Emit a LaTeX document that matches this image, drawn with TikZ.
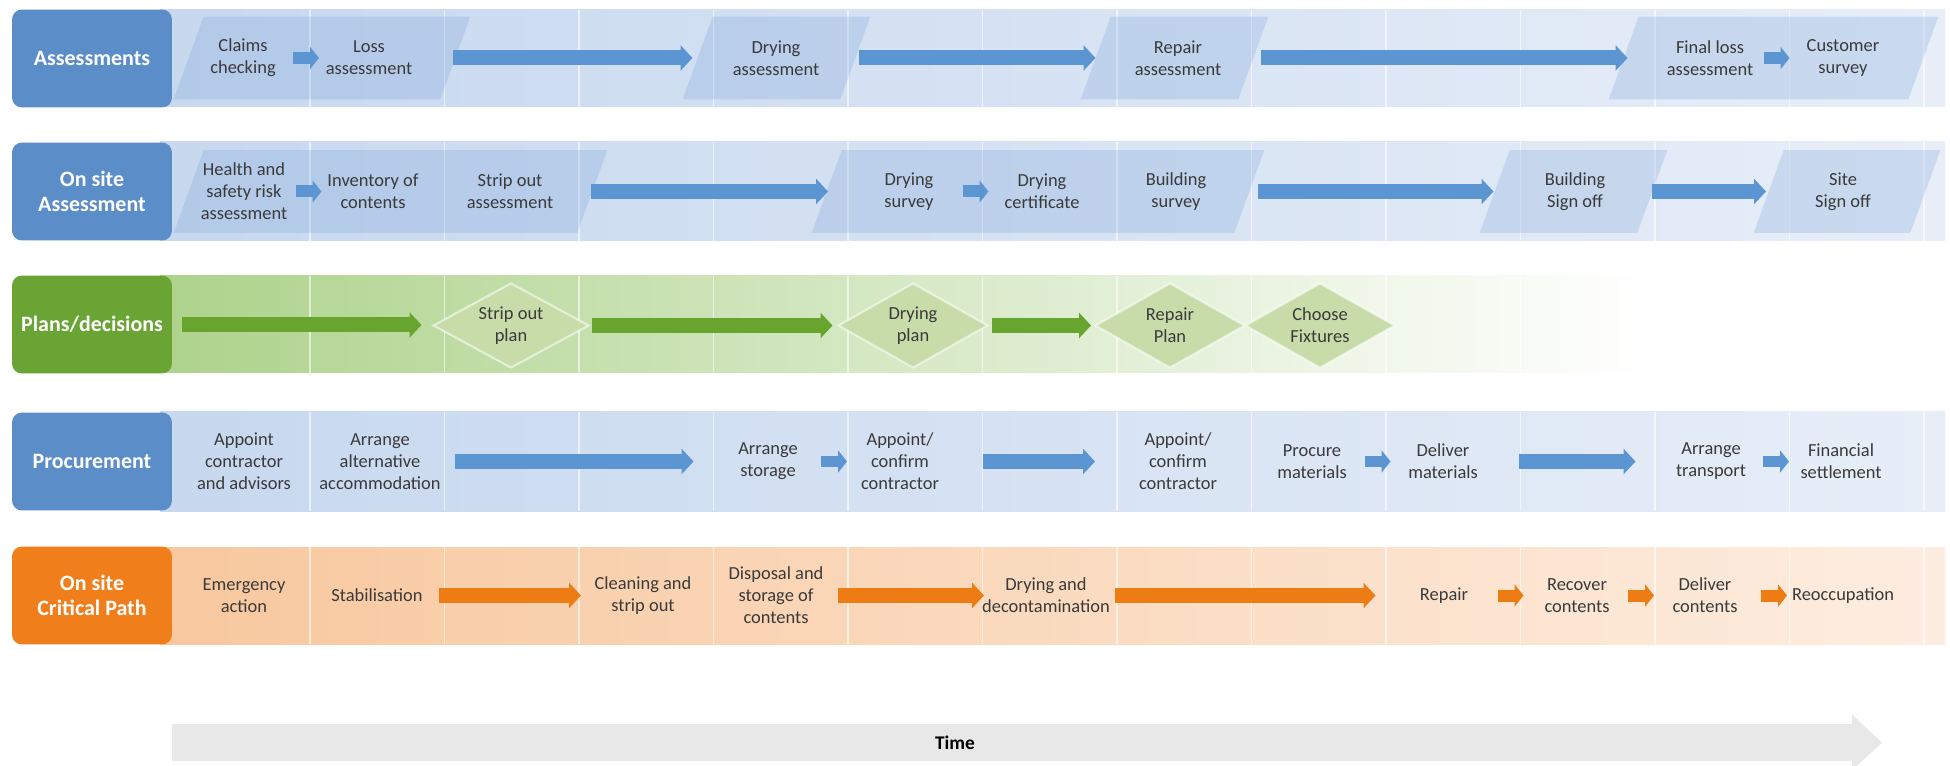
\documentclass[tikz,border=0pt]{standalone}
\usepackage{fontspec}
\setmainfont{Carlito}
\usepackage{tikz}
\usetikzlibrary{arrows.meta, calc, shapes.geometric}

\definecolor{bluehead}{HTML}{5B8DC9}
\definecolor{bluelane}{HTML}{C7D8EF}
\definecolor{bluelaneend}{HTML}{E7EEF8}
\definecolor{bluepara}{HTML}{78A0D7}
\definecolor{blueflow}{HTML}{5B96D3}
\definecolor{greenhead}{HTML}{6AA434}
\definecolor{greenlane}{HTML}{AED38C}
\definecolor{greenplan}{HTML}{C8DCAA}
\definecolor{greenflow}{HTML}{67A52E}
\definecolor{orangehead}{HTML}{F07F1B}
\definecolor{orangelane}{HTML}{F8C89F}
\definecolor{orangelaneend}{HTML}{FDEDE0}
\definecolor{orangeflow}{HTML}{EE7C14}
\definecolor{timebar}{HTML}{E8E8E8}
\definecolor{itemtext}{HTML}{3A3A3A}

\tikzset{
  lanehead/.style={rounded corners=0.2cm, minimum width=3.2cm, minimum height=1.96cm,
    inner sep=0pt, align=center, text=white, font=\bfseries\fontsize{12.5}{14.5}\selectfont},
  stepitem/.style={align=center, inner sep=0pt, text=itemtext,
    font=\fontsize{10.5}{12.5}\selectfont},
  parabody/.style={inner sep=0pt, minimum height=1.64cm},
  planbox/.style={diamond, aspect=1.8, minimum width=3.0cm, minimum height=1.7cm,
    inner sep=0pt, fill=greenplan, draw=white, draw opacity=0.55, line width=1.2pt,
    align=center, text=itemtext, font=\fontsize{10.5}{12.5}\selectfont},
  longflow/.style={line width=0.3cm, -{Triangle[width=0.5cm, length=0.24cm]},
    to path={($(\tikztostart)!0.5!(\tikztotarget)$) ++({-#1/2},0) -- ++(#1,0)}},
  shortflow/.style={line width=0.24cm, -{Triangle[width=0.44cm, length=0.18cm]},
    to path={($(\tikztostart)!0.5!(\tikztotarget)$) ++(-13,0) -- ++(26,0)}}
}

\begin{document}
\begin{tikzpicture}[x=0.02cm, y=-0.02cm]
    \useasboundingbox (0,0) rectangle (1950,766);
    \fill[white] (0,0) rectangle (1950,766);

    % lanes
    \shade[left color=bluelane, right color=bluelaneend] (160,10) rectangle (1945,107);
    \shade[left color=bluelane, right color=bluelaneend] (160,142) rectangle (1945,241);
    \shade[left color=greenlane, middle color=greenlane!78!white, right color=white]
      (160,276) rectangle (1650,373);
    \shade[left color=bluelane, right color=bluelaneend] (160,412) rectangle (1945,511);
    \shade[left color=orangelane, right color=orangelaneend] (160,547) rectangle (1945,644);

    \foreach \top/\bot in {10/107, 142/241, 276/373, 412/511, 547/644} {
      \foreach \k in {0, 1, ..., 12} {
        \draw[white, opacity=0.6, line width=0.6pt] ({310+134.5*\k},\top) -- ({310+134.5*\k},\bot);
      }
    }

    \node[lanehead, fill=bluehead] (HEAD1) at (92,58.5) {Assessments};
    \node[lanehead, fill=bluehead] (HEAD2) at (92,191.5) {On site\\Assessment};
    \node[lanehead, fill=greenhead] (HEAD3) at (92,324.5) {Plans/decisions};
    \node[lanehead, fill=bluehead] (HEAD4) at (92,461.5) {Procurement};
    \node[lanehead, fill=orangehead] (HEAD5) at (92,595.5) {On site\\Critical Path};

    % slanted backs of the assessment rows
    \node[parabody, minimum width=5.32cm] (PA1) at (322,58) {};
    \node[parabody, minimum width=3.14cm] (PA2) at (776.5,58) {};
    \node[parabody, minimum width=3.14cm] (PA3) at (1174.5,58) {};
    \node[parabody, minimum width=5.98cm] (PA4) at (1773.5,58) {};
    \node[parabody, minimum width=8.06cm] (PB1) at (390.5,191.5) {};
    \node[parabody, minimum width=8.44cm] (PB2) at (1038,191.5) {};
    \node[parabody, minimum width=3.14cm] (PB3) at (1573.5,191.5) {};
    \node[parabody, minimum width=3.12cm] (PB4) at (1847,191.5) {};
    \foreach \p in {PA1, PA2, PA3, PA4, PB1, PB2, PB3, PB4} {
      \fill[bluepara, fill opacity=0.26]
        ([xshift=-0.3cm]\p.south west) -- ([xshift=-0.3cm]\p.south east)
        -- ([xshift=0.3cm]\p.north east) -- ([xshift=0.3cm]\p.north west) -- cycle;
    }

    % assessments
    \node[stepitem] (CLAIMS) at (243,58) {Claims\\checking};
    \node[stepitem] (LOSS) at (369,58) {Loss\\assessment};
    \node[stepitem] (DRYASS) at (776,58) {Drying\\assessment};
    \node[stepitem] (REPASS) at (1178,58) {Repair\\assessment};
    \node[stepitem] (FINLOSS) at (1710,58) {Final loss\\assessment};
    \node[stepitem] (CUSTSURV) at (1843,58) {Customer\\survey};
    \draw[shortflow, blueflow] (CLAIMS) to (LOSS);
    \draw[longflow=240, blueflow] (LOSS) to (DRYASS);
    \draw[longflow=237, blueflow] (DRYASS) to (REPASS);
    \draw[longflow=367, blueflow] (REPASS) to (FINLOSS);
    \draw[shortflow, blueflow] (FINLOSS) to (CUSTSURV);

    % on site assessment
    \node[stepitem] (HEALTH) at (244,191.5) {Health and\\safety risk\\assessment};
    \node[stepitem] (INVENT) at (373,191.5) {Inventory of\\contents};
    \node[stepitem] (STRIPASS) at (510,191.5) {Strip out\\assessment};
    \node[stepitem] (DRYSURV) at (909,191.5) {Drying\\survey};
    \node[stepitem] (DRYCERT) at (1042,191.5) {Drying\\certificate};
    \node[stepitem] (BUILDSURV) at (1176,191.5) {Building\\survey};
    \node[stepitem] (BUILDSIGN) at (1575,191.5) {Building\\Sign off};
    \node[stepitem] (SITESIGN) at (1843,191.5) {Site\\Sign off};
    \draw[shortflow, blueflow] (HEALTH) to (INVENT);
    \draw[longflow=237, blueflow] (STRIPASS) to (DRYSURV);
    \draw[shortflow, blueflow] (DRYSURV) to (DRYCERT);
    \draw[longflow=236, blueflow] (BUILDSURV) to (BUILDSIGN);
    \draw[longflow=114, blueflow] (BUILDSIGN) to (SITESIGN);

    % plans/decisions
    \node[planbox, minimum width=3.12cm] (STRIPPLAN) at (511,325.5) {Strip out\\plan};
    \node[planbox] (DRYPLAN) at (913,325.5) {Drying\\plan};
    \node[planbox] (REPPLAN) at (1170,325.5) {Repair\\Plan};
    \node[planbox] (FIXTURES) at (1320,325.5) {Choose\\Fixtures};
    \draw[longflow=240, greenflow] (HEAD3) to (STRIPPLAN);
    \draw[longflow=241, greenflow] (STRIPPLAN) to (DRYPLAN);
    \draw[longflow=99, greenflow] (DRYPLAN) to (REPPLAN);

    % procurement
    \node[stepitem] (APPCONT) at (244,461.5) {Appoint\\contractor\\and advisors};
    \node[stepitem] (ALTACC) at (380,461.5) {Arrange\\alternative\\accommodation};
    \node[stepitem] (ARRSTOR) at (768,461.5) {Arrange\\storage};
    \node[stepitem] (APPCONF) at (900,461.5) {Appoint/\\confirm\\contractor};
    \node[stepitem] (APPCONFB) at (1178,461.5) {Appoint/\\confirm\\contractor};
    \node[stepitem] (PROCURE) at (1312,461.5) {Procure\\materials};
    \node[stepitem] (DELMAT) at (1443,461.5) {Deliver\\materials};
    \node[stepitem] (ARRTRANS) at (1711,461.5) {Arrange\\transport};
    \node[stepitem] (FINSET) at (1841,461.5) {Financial\\settlement};
    \draw[longflow=239, blueflow] (ALTACC) to (ARRSTOR);
    \draw[shortflow, blueflow] (ARRSTOR) to (APPCONF);
    \draw[longflow=112, blueflow] (APPCONF) to (APPCONFB);
    \draw[shortflow, blueflow] (PROCURE) to (DELMAT);
    \draw[longflow=117, blueflow] (DELMAT) to (ARRTRANS);
    \draw[shortflow, blueflow] (ARRTRANS) to (FINSET);

    % on site critical path
    \node[stepitem] (EMERG) at (244,595.5) {Emergency\\action};
    \node[stepitem] (STAB) at (377,595.5) {Stabilisation};
    \node[stepitem] (CLEAN) at (643,595.5) {Cleaning and\\strip out};
    \node[stepitem] (DISPOSAL) at (776,595.5) {Disposal and\\storage of\\contents};
    \node[stepitem] (DRYDECON) at (1046,595.5) {Drying and\\decontamination};
    \node[stepitem] (REPAIR) at (1444,595.5) {Repair};
    \node[stepitem] (RECOVER) at (1577,595.5) {Recover\\contents};
    \node[stepitem] (DELCONT) at (1705,595.5) {Deliver\\contents};
    \node[stepitem] (REOCC) at (1843,595.5) {Reoccupation};
    \draw[longflow=142, orangeflow] (STAB) to (CLEAN);
    \draw[longflow=146, orangeflow] (DISPOSAL) to (DRYDECON);
    \draw[longflow=261, orangeflow] (DRYDECON) to (REPAIR);
    \draw[shortflow, orangeflow] (REPAIR) to (RECOVER);
    \draw[shortflow, orangeflow] (RECOVER) to (DELCONT);
    \draw[shortflow, orangeflow] (DELCONT) to (REOCC);

    % time
    \coordinate (TSTART) at (172,742.5);
    \coordinate (TEND) at (1882,742.5);
    \draw[timebar, line width=0.74cm, -{Triangle[width=1.08cm, length=0.6cm]}] (TSTART) -- (TEND);
    \node[stepitem, text=black, font=\bfseries\fontsize{11}{13}\selectfont] (TIME) at (955,742.5) {Time};
\end{tikzpicture}
\end{document}
